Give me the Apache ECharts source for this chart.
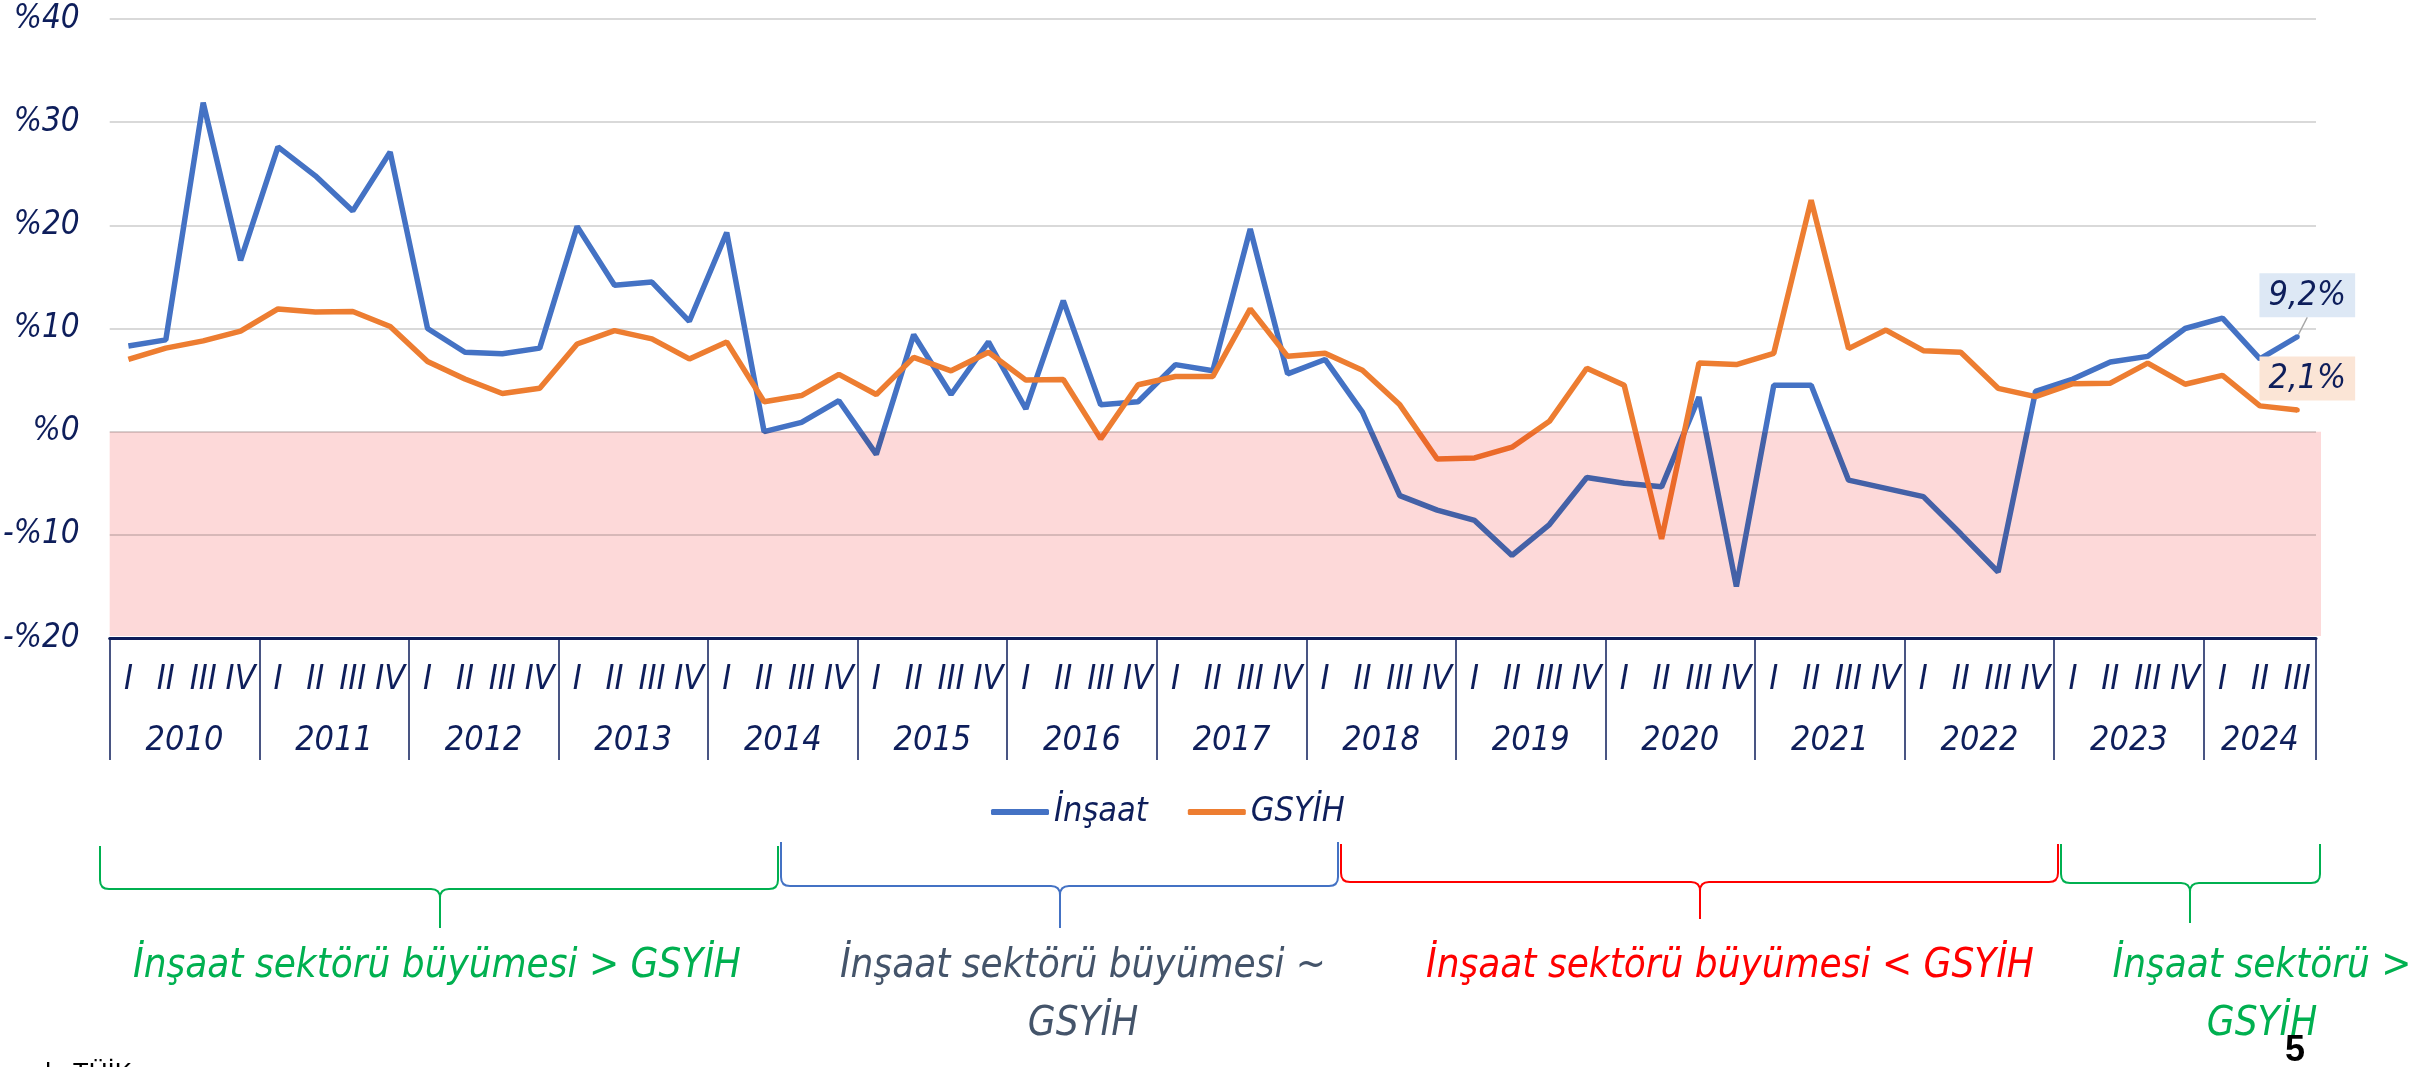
<!DOCTYPE html>
<html>
<head>
<meta charset="utf-8">
<script src="https://cdn.jsdelivr.net/npm/echarts@6/dist/echarts.min.js"></script>
<style>
  html, body { margin: 0; padding: 0; background: #fff; }
  #chart { width: 2415px; height: 1067px; }
</style>
</head>
<body>
<div id="chart"></div>
<script>
// years / quarters on the two-level category axis
const YEARS = [2010, 2011, 2012, 2013, 2014, 2015, 2016, 2017, 2018, 2019, 2020, 2021, 2022, 2023, 2024];
const QUARTER_NAMES = ['I', 'II', 'III', 'IV'];
const QUARTERS_PER_YEAR = [4, 4, 4, 4, 4, 4, 4, 4, 4, 4, 4, 4, 4, 4, 3];

// y axis
const Y_MIN = -20;
const Y_MAX = 40;
const Y_STEP = 10;
const NEGATIVE_BAND = [0, -20];

// annual growth, %
const INSAAT = [
  8.3, 8.9, 31.9, 16.6,
  27.6, 24.8, 21.4, 27.1,
  10.0, 7.7, 7.55, 8.1,
  19.9, 14.2, 14.5, 10.7,
  19.3, 0.0, 0.9, 3.0,
  -2.2, 9.4, 3.6, 8.7,
  2.2, 12.7, 2.6, 2.9,
  6.5, 5.9, 19.65, 5.6,
  7.0, 1.9, -6.2, -7.6,
  -8.6, -12.0, -9.0, -4.45,
  -5.0, -5.35, 3.35, -15.0,
  4.5, 4.5, -4.7, -5.5,
  -6.3, -9.9, -13.6, 3.9,
  5.1, 6.75, 7.3, 10.0,
  11.0, 7.05, 9.2,
];
const GSYIH = [
  7.0, 8.1, 8.8, 9.75,
  11.9, 11.6, 11.65, 10.2,
  6.8, 5.1, 3.7, 4.2,
  8.5, 9.8, 9.0, 7.05,
  8.7, 2.9, 3.5, 5.55,
  3.6, 7.2, 5.9, 7.7,
  5.0, 5.05, -0.7, 4.55,
  5.35, 5.35, 11.9, 7.3,
  7.6, 5.95, 2.6, -2.65,
  -2.55, -1.5, 1.0, 6.15,
  4.5, -10.4, 6.65, 6.5,
  7.6, 22.45, 8.05, 9.85,
  7.85, 7.7, 4.2, 3.4,
  4.65, 4.7, 6.65, 4.6,
  5.45, 2.5, 2.1,
];

const FONT = "'Liberation Sans Narrow', 'DejaVu Sans Condensed', 'Liberation Sans', sans-serif";
const NAVY = '#0e1e5b';
const BLUE = '#4472C4';
const ORANGE = '#ED7D31';

const categories = [];
const yearStarts = [];
const yearMids = [];
let pos = 0;
YEARS.forEach((year, k) => {
  const n = QUARTERS_PER_YEAR[k];
  yearStarts.push(pos);
  yearMids.push(pos + n / 2);
  for (let q = 0; q < n; q++) categories.push(year + ' ' + QUARTER_NAMES[q]);
  pos += n;
});
yearStarts.push(pos);

const pct = (v) => String(v).replace('.', ',') + '%';
const axisPct = (v) => (v < 0 ? '-%' + Math.abs(v) : '%' + v);

// only the latest quarter carries a value label
function withEndLabel(values, color, bg, offset) {
  return values.map((v, i) => i === values.length - 1 ? {
    value: v,
    symbol: 'circle',
    symbolSize: 5,
    itemStyle: { color },
    label: {
      show: true,
      position: 'top',
      offset,
      formatter: pct(v),
      fontFamily: FONT,
      fontStyle: 'italic',
      fontSize: 34,
      color: NAVY,
      backgroundColor: bg,
      padding: [6, 9, 4, 9],
    },
  } : v);
}

// brace annotations under the axis (pixel layout)
const BRACES = [
  { x0: 100, x1: 778, top: 846, mid: 889, tip: 440, bottom: 928, color: '#00B050' },
  { x0: 781, x1: 1338, top: 842, mid: 886, tip: 1060, bottom: 928, color: '#4472C4' },
  { x0: 1341, x1: 2058, top: 844, mid: 882, tip: 1700, bottom: 919, color: '#FF0000' },
  { x0: 2061, x1: 2320, top: 844, mid: 883, tip: 2190, bottom: 923, color: '#00B050' },
];
const NOTES = [
  { text: 'İnşaat sektörü büyümesi > GSYİH', x: 437, color: '#00B050' },
  { text: 'İnşaat sektörü büyümesi ~\nGSYİH', x: 1083, color: '#44546A' },
  { text: 'İnşaat sektörü büyümesi < GSYİH', x: 1730, color: '#FF0000' },
  { text: 'İnşaat sektörü >\nGSYİH', x: 2262, color: '#00B050' },
];

function braceParts(b) {
  const r = 9;
  const style = { stroke: b.color, lineWidth: 2, fill: null };
  const line = (x1, y1, x2, y2) => ({ type: 'line', shape: { x1, y1, x2, y2 }, style, silent: true });
  const curve = (x1, y1, cpx1, cpy1, x2, y2) => ({
    type: 'bezierCurve', shape: { x1, y1, cpx1, cpy1, x2, y2 }, style, silent: true,
  });
  return [
    line(b.x0, b.top, b.x0, b.mid - r),
    curve(b.x0, b.mid - r, b.x0, b.mid, b.x0 + r, b.mid),
    line(b.x0 + r, b.mid, b.tip - r, b.mid),
    curve(b.tip - r, b.mid, b.tip, b.mid, b.tip, b.mid + r),
    curve(b.tip + r, b.mid, b.tip, b.mid, b.tip, b.mid + r),
    line(b.tip, b.mid + r, b.tip, b.bottom),
    line(b.tip + r, b.mid, b.x1 - r, b.mid),
    curve(b.x1 - r, b.mid, b.x1, b.mid, b.x1, b.mid - r),
    line(b.x1, b.mid - r, b.x1, b.top),
  ];
}

const graphic = [
  ...BRACES.flatMap(braceParts),
  ...NOTES.map(n => ({
    type: 'text',
    x: n.x,
    y: 938,
    style: {
      text: n.text,
      font: `italic 40px ${FONT}`,
      fill: n.color,
      align: 'center',
      verticalAlign: 'top',
      lineHeight: 58,
    },
    silent: true,
  })),
  {
    type: 'text', x: 2295, y: 1033,
    style: { text: '5', font: `bold 36px 'Liberation Sans', sans-serif`, fill: '#000', align: 'center' },
  },
  {
    type: 'text', x: 132, y: 1061,
    style: { text: 'Kaynak: TÜİK', font: `26px 'Liberation Sans', sans-serif`, fill: '#000', align: 'right' },
  },
];

const chart = echarts.init(document.getElementById('chart'));
chart.setOption({
  backgroundColor: '#ffffff',
  animation: false,
  textStyle: { fontFamily: FONT },
  grid: { left: 108, right: 99, top: 19, bottom: 429, containLabel: false },
  legend: {
    data: ['İnşaat', 'GSYİH'],
    left: 986,
    top: 790,
    icon: 'roundRect',
    itemWidth: 58,
    itemHeight: 6,
    itemGap: 40,
    textStyle: { fontFamily: FONT, fontStyle: 'italic', fontSize: 34, color: NAVY },
  },
  xAxis: [
    {
      type: 'category',
      data: categories,
      boundaryGap: true,
      position: 'bottom',
      axisLine: { onZero: false, lineStyle: { color: NAVY, width: 3 } },
      axisTick: { interval: 0, length: 62, lineStyle: { color: NAVY, width: 1.5 } },
      axisLabel: {
        interval: 0,
        margin: 25,
        formatter: (v) => v.split(' ')[1],
        fontFamily: FONT, fontStyle: 'italic', fontSize: 34, color: NAVY,
      },
      splitLine: { show: false },
    },
    {
      type: 'value',
      min: 0,
      max: categories.length,
      position: 'bottom',
      axisLine: { show: false, onZero: false },
      axisTick: { customValues: yearStarts, length: 122, lineStyle: { color: NAVY, width: 1.5 } },
      axisLabel: {
        customValues: yearMids,
        margin: 86,
        formatter: (v) => {
          let k = 0;
          yearMids.forEach((m, i) => { if (Math.abs(m - v) < Math.abs(yearMids[k] - v)) k = i; });
          return String(YEARS[k]);
        },
        fontFamily: FONT, fontStyle: 'italic', fontSize: 34, color: NAVY,
      },
      splitLine: { show: false },
    },
  ],
  yAxis: {
    type: 'value',
    min: Y_MIN,
    max: Y_MAX,
    interval: Y_STEP,
    axisLine: { show: false },
    axisTick: { show: false },
    axisLabel: {
      margin: 30,
      formatter: axisPct,
      fontFamily: FONT, fontStyle: 'italic', fontSize: 33, color: NAVY,
    },
    splitLine: { lineStyle: { color: '#d9d9d9', width: 2 } },
  },
  series: [
    {
      name: 'İnşaat',
      type: 'line',
      xAxisIndex: 0,
      data: withEndLabel(INSAAT, BLUE, '#dde8f5', [0, 0]),
      symbol: 'none',
      lineStyle: { width: 5.5, color: BLUE },
      itemStyle: { color: BLUE },
      labelLayout: { dx: 10, dy: -12 },
      labelLine: { show: true, lineStyle: { color: '#a6a6a6', width: 1.5 } },
      z: 3,
    },
    {
      name: 'GSYİH',
      type: 'line',
      xAxisIndex: 0,
      data: withEndLabel(GSYIH, ORANGE, '#fbe5d6', [10, -2]),
      symbol: 'none',
      lineStyle: { width: 5.5, color: ORANGE },
      itemStyle: { color: ORANGE },
      z: 4,
    },
    {
      // pink negative zone, multiplied over the lines like the source overlay
      type: 'custom',
      xAxisIndex: 0,
      silent: true,
      blendMode: 'multiply',
      z: 10,
      data: [[0, NEGATIVE_BAND[0], NEGATIVE_BAND[1]]],
      renderItem: (params, api) => {
        const cs = params.coordSys;
        const top = api.coord([0, api.value(1)])[1];
        const bottom = api.coord([0, api.value(2)])[1];
        return {
          type: 'rect',
          shape: { x: cs.x, y: top, width: cs.width + 5, height: bottom - top - 2 },
          style: { fill: '#fdd9d9' },
        };
      },
    },
  ],
  graphic,
});
</script>
</body>
</html>
